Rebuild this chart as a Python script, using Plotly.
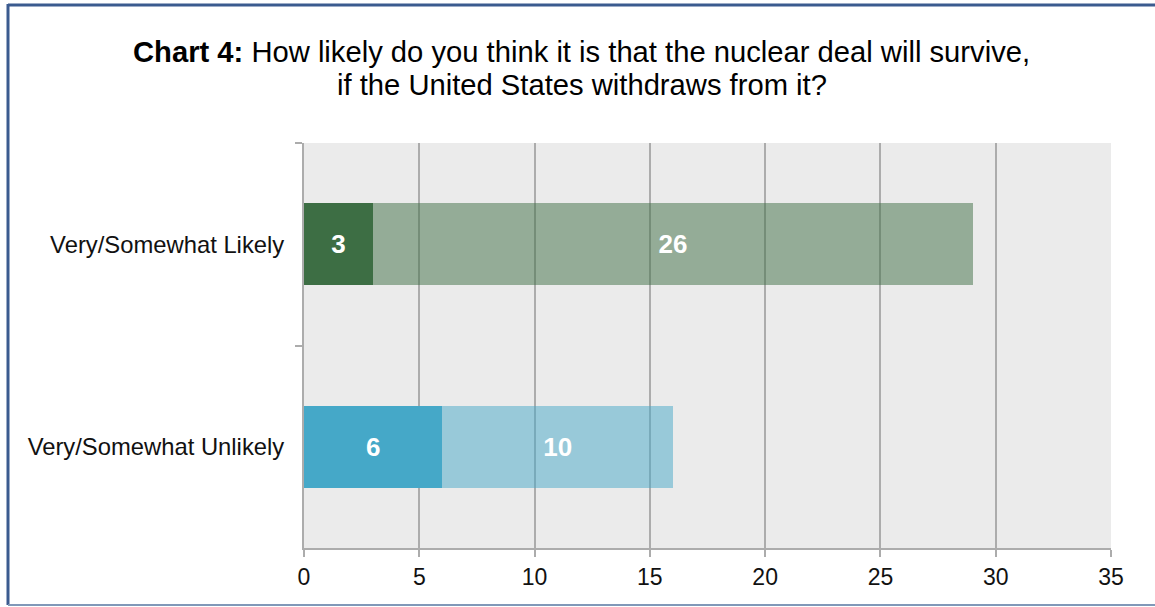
import plotly.graph_objects as go

categories = ["Very/Somewhat Likely", "Very/Somewhat Unlikely"]
very_values = [3, 6]
somewhat_values = [26, 10]
very_colors = ["#3d6e44", "#45a8c8"]
somewhat_colors = ["rgba(61,110,68,0.5)", "rgba(69,168,200,0.5)"]
x_ticks = [0, 5, 10, 15, 20, 25, 30, 35]
title_line1 = "<b>Chart 4:</b> How likely do you think it is that the nuclear deal will survive,"
title_line2 = "if the United States withdraws from it?"

FONT = "Liberation Sans, Arial, Helvetica, sans-serif"

fig = go.Figure()
fig.add_trace(go.Bar(
    y=categories, x=very_values, orientation="h",
    marker=dict(color=very_colors, line=dict(width=0)),
    text=[str(v) for v in very_values], textposition="inside",
    insidetextanchor="middle",
    textfont=dict(color="white", size=26, family=FONT, weight="bold"),
    hoverinfo="x+y", showlegend=False,
))
fig.add_trace(go.Bar(
    y=categories, x=somewhat_values, orientation="h",
    marker=dict(color=somewhat_colors, line=dict(width=0)),
    text=[str(v) for v in somewhat_values], textposition="inside",
    insidetextanchor="middle",
    textfont=dict(color="white", size=26, family=FONT, weight="bold"),
    hoverinfo="x+y", showlegend=False,
))

L, R, T, B = 304, 44, 143, 59
W, H = 1155, 607
pw, ph = W - L - R, H - T - B

def px_x(p):
    return (p - L) / pw

def px_y(p):
    return (H - B - p) / ph

fig.update_layout(
    width=W, height=H,
    margin=dict(l=L, r=R, t=T, b=B, pad=0),
    paper_bgcolor="white",
    plot_bgcolor="#ebebeb",
    barmode="stack",
    bargap=0.595,
    font=dict(family=FONT, color="#111111"),
    xaxis=dict(
        range=[0, 35], tickvals=x_ticks, ticktext=[str(t) for t in x_ticks],
        showgrid=True, gridcolor="#acacac", gridwidth=2,
        showline=True, linecolor="#acacac", linewidth=2,
        ticks="outside", ticklen=7, tickwidth=2, tickcolor="#acacac",
        tickfont=dict(size=23, family=FONT, color="#111111"),
        zeroline=False, fixedrange=True,
    ),
    yaxis=dict(
        autorange="reversed",
        showgrid=False,
        showline=True, linecolor="#acacac", linewidth=2,
        ticks="outside", tickson="boundaries", ticklen=7, tickwidth=2, tickcolor="#acacac",
        tickfont=dict(size=23.8, family=FONT, color="#111111"),
        ticklabelstandoff=13,
        fixedrange=True,
    ),
    annotations=[
        dict(text=title_line1, xref="paper", yref="paper",
             x=px_x(581.5), y=px_y(52), xanchor="center", yanchor="middle",
             showarrow=False, font=dict(size=29.2, family=FONT, color="#000000")),
        dict(text=title_line2, xref="paper", yref="paper",
             x=px_x(581.5), y=px_y(85), xanchor="center", yanchor="middle",
             showarrow=False, font=dict(size=29.2, family=FONT, color="#000000")),
    ],
    shapes=[
        dict(type="line", xref="paper", yref="paper",
             x0=px_x(8), x1=px_x(1160), y0=px_y(5), y1=px_y(5),
             line=dict(color="#3b5b8f", width=3)),
        dict(type="line", xref="paper", yref="paper",
             x0=px_x(8), x1=px_x(8), y0=px_y(4), y1=px_y(605),
             line=dict(color="#3b5b8f", width=3)),
        dict(type="line", xref="paper", yref="paper",
             x0=px_x(8), x1=px_x(1160), y0=px_y(605), y1=px_y(605),
             line=dict(color="#8098b8", width=2)),
    ],
)

fig.write_html("out.html", config={"displayModeBar": False},
               post_script="document.body.style.margin='0px';document.body.style.overflow='hidden';")
